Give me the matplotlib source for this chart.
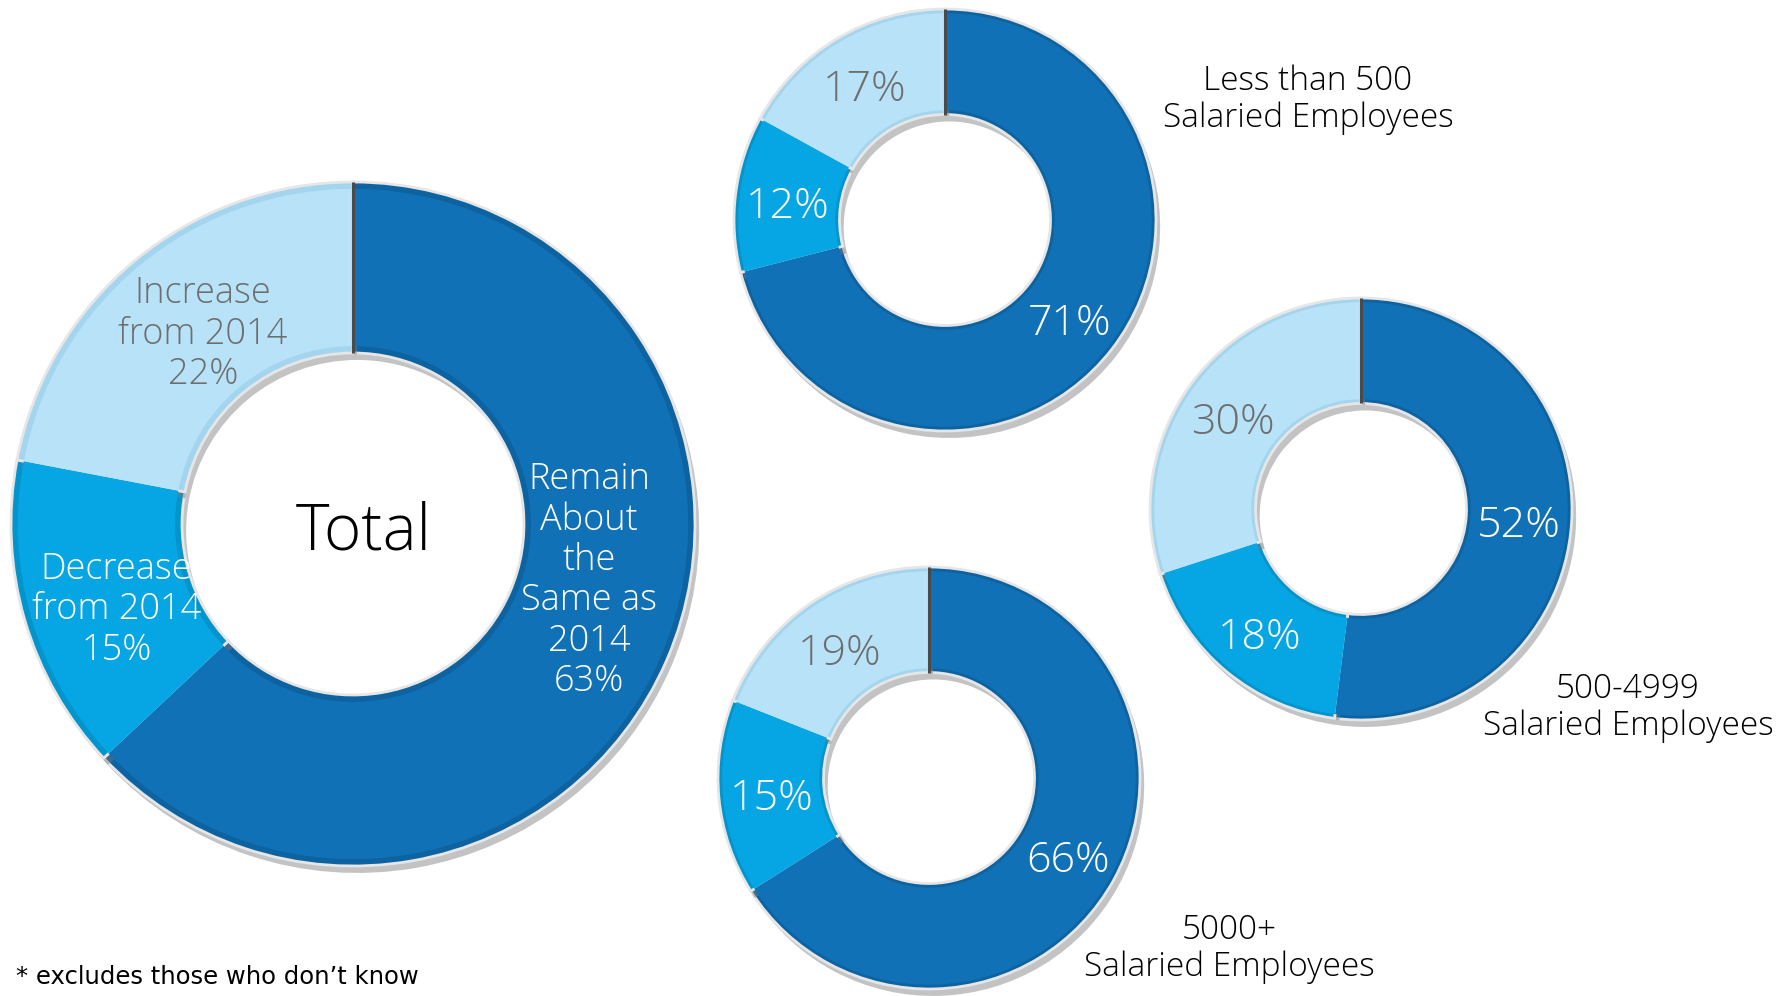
import numpy as np
import matplotlib
matplotlib.use("Agg")
import matplotlib.pyplot as plt
import matplotlib.patheffects as pe

# segment order: remain about the same, decrease, increase (clockwise from 12 o'clock)
colors = ['#1171b6', '#05a6e3', '#b7e2f8']
rim_colors = ['#0d62a0', '#0394cc', '#a3d5ef']
text_colors = ['white', 'white', '#6e6e6e']

total_vals = [63, 15, 22]
total_labels = ['Remain\nAbout\nthe\nSame as\n2014\n63%',
                'Decrease\nfrom 2014\n15%',
                'Increase\nfrom 2014\n22%']

small_vals = {
    'Less than 500\nSalaried Employees': [71, 12, 17],
    '500-4999\nSalaried Employees': [52, 18, 30],
    '5000+\nSalaried Employees': [66, 15, 19],
}

W, H = 1787, 996
fig = plt.figure(figsize=(W / 100, H / 100), dpi=100)
fig.patch.set_facecolor('white')

LABEL_FONT = ['Open Sans', 'DejaVu Sans']


def donut_axes(cx, cy, r):
    # axes in pixel terms, y measured from the top
    ax = fig.add_axes([(cx - r) / W, 1 - (cy + r) / H, 2 * r / W, 2 * r / H])
    ax.axis('off')
    return ax


def draw_donut(ax, vals, labels, fsize, label_r=0.74, offsets=None, spacing=1.12):
    shadow = [pe.SimplePatchShadow(offset=(3, -5), shadow_rgbFace='#7a7a7a', alpha=0.45),
              pe.Normal()]
    wedges, _ = ax.pie(vals, colors=rim_colors, startangle=90, counterclock=False,
                       radius=1.0, wedgeprops=dict(width=0.5, edgecolor='#e6e6e6',
                                                   linewidth=2))
    for w in wedges:
        w.set_path_effects(shadow)
    # lighter inner body gives the bevelled rim
    ax.pie(vals, colors=colors, startangle=90, counterclock=False,
           radius=0.98, wedgeprops=dict(width=0.46, edgecolor='none'))
    ax.plot([0, 0], [0.5, 1.0], color='#4a4a4a', lw=2.2, solid_capstyle='butt')
    ax.set_xlim(-1.0, 1.0)
    ax.set_ylim(-1.0, 1.0)
    ax.set_aspect('equal')

    fr = np.cumsum([0] + list(vals)) / float(sum(vals))
    for i, lab in enumerate(labels):
        mid = (fr[i] + fr[i + 1]) / 2 * 2 * np.pi
        x = label_r * np.sin(mid)
        y = label_r * np.cos(mid)
        dx, dy = offsets[i] if offsets is not None else (0.0, -0.03)
        ax.text(x + dx, y + dy, lab, ha='center', va='center', fontsize=fsize,
                color=text_colors[i], family=LABEL_FONT, weight='light',
                linespacing=spacing, clip_on=False)


# total donut
ax_t = donut_axes(353, 524, 342)
draw_donut(ax_t, total_vals, total_labels, 26, label_r=0.72,
           offsets=[(0.03, 0.12), (0.0, -0.05), (0.02, 0.0)])
ax_t.text(0.03, -0.025, 'Total', ha='center', va='center', fontsize=46,
          family=LABEL_FONT, weight='light', color='black')

# group donuts: centre and title position in pixels
centres = [(945, 220), (1361, 509), (929, 778)]
title_pos = [(1308, 100), (1628, 708), (1229, 949)]
for (cx, cy), (tx, ty), (name, vals) in zip(centres, title_pos, small_vals.items()):
    ax = donut_axes(cx, cy, 211)
    draw_donut(ax, vals, ['%d%%' % v for v in vals], 31, label_r=0.75)
    fig.text(tx / W, 1 - ty / H, name, ha='center', va='center', fontsize=24,
             family=LABEL_FONT, weight='light', color='black', linespacing=1.12)

fig.text(16 / W, 1 - 977 / H, '* excludes those who don\u2019t know', ha='left',
         va='center', fontsize=17.5, family='DejaVu Sans', color='black')

fig.savefig('out.png', dpi=100, facecolor='white')
